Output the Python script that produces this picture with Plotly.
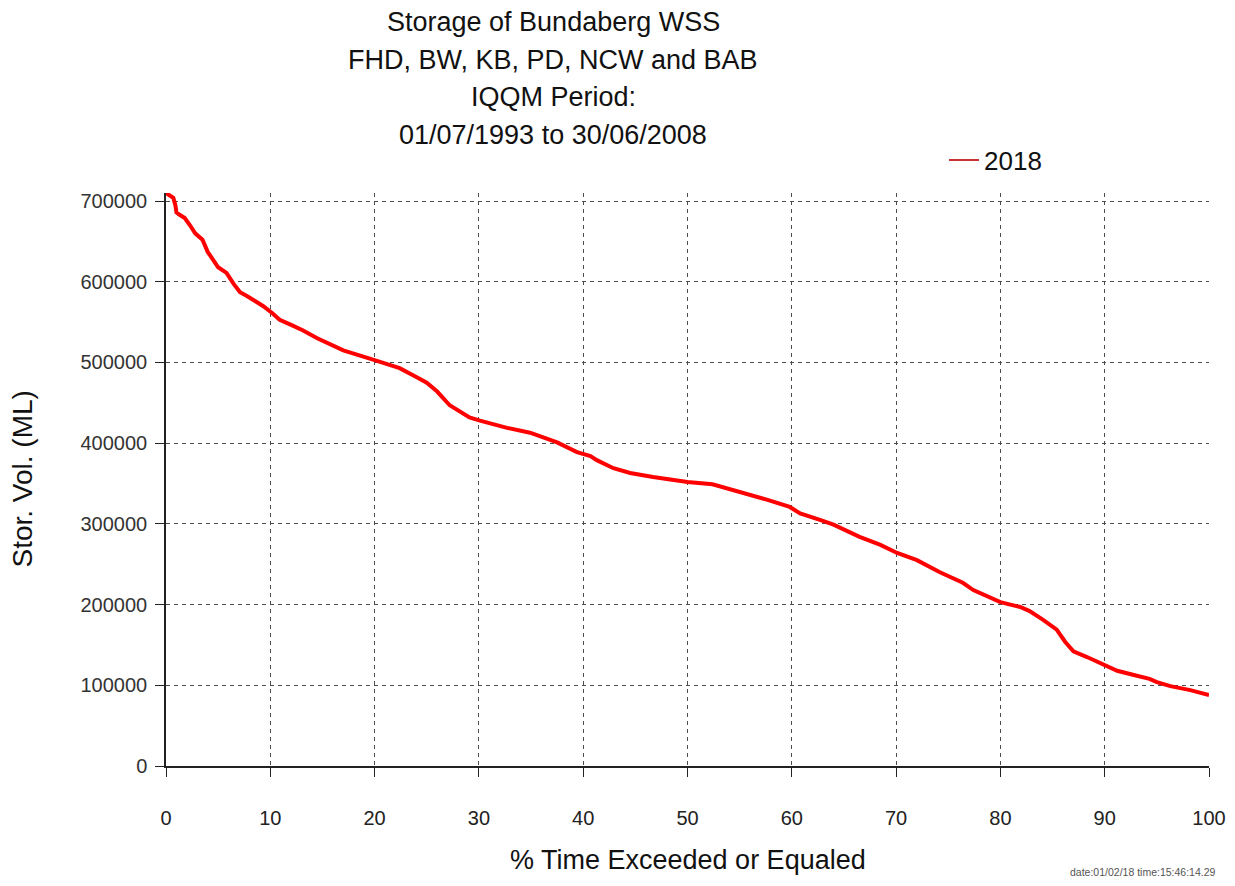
import plotly.graph_objects as go

# Duration curve: % time exceeded vs storage volume (ML)
pct_exceeded = [
    0.0, 0.7, 0.9, 1.0, 1.3, 1.8, 2.3, 2.8, 3.5, 4.0, 5.0, 5.8, 6.5, 7.1,
    7.8, 8.5, 9.3, 10.2, 10.9, 12.1, 13.1, 14.5, 17.0, 20.0, 22.4, 24.0,
    25.0, 26.0, 27.2, 29.1, 30.1, 32.7, 34.9, 37.5, 39.4, 40.7, 41.3, 42.9,
    44.5, 46.7, 50.0, 52.4, 55.0, 57.6, 59.8, 60.8, 62.7, 64.0, 66.5, 68.5,
    70.1, 72.0, 74.2, 76.4, 77.4, 80.0, 81.9, 82.8, 84.1, 85.4, 86.2, 87.0,
    88.3, 89.8, 91.2, 92.7, 94.3, 95.0, 96.3, 98.2, 100.0,
]
storage_ml = [
    710000, 704000, 695000, 686000, 683000, 679000, 670000, 660000, 652000,
    637000, 618000, 611000, 597000, 587000, 582000, 577000, 570000, 561000,
    553000, 546000, 540000, 530000, 515000, 503000, 493000, 482000, 475000,
    464000, 447000, 432000, 428000, 419000, 413000, 401000, 389000, 384000,
    379000, 369000, 363000, 358000, 352000, 349000, 340000, 330000, 321000,
    313000, 305000, 299000, 284000, 274000, 264000, 255000, 240000, 227000,
    218000, 203000, 197000, 192000, 181000, 169000, 154000, 142000, 135000,
    126000, 118000, 113000, 108000, 104000, 99000, 94000, 88000,
]
series_name = "2018"

title_lines = [
    "Storage of Bundaberg WSS",
    "FHD, BW, KB, PD, NCW and BAB",
    "IQQM Period:",
    "01/07/1993 to 30/06/2008",
]
x_title = "% Time Exceeded or Equaled"
y_title = "Stor. Vol. (ML)"
x_ticks = list(range(0, 101, 10))
y_ticks = list(range(0, 700001, 100000))
stamp = "date:01/02/18 time:15:46:14.29"

SANS = "Liberation Sans, Arial, sans-serif"

# page body has an 8px margin, so the figure sits 8px in from the top-left
W, H = 1227, 870
L, R, T, B = 158, 26, 185, 112
plot_w = W - L - R
plot_h = H - T - B


def px_x(x):
    # figure pixel -> paper x (relative to plot area)
    return (x - L) / plot_w


def px_y(y):
    return (H - B - y) / plot_h


fig = go.Figure()
fig.add_trace(go.Scatter(
    x=pct_exceeded, y=storage_ml,
    mode="lines",
    line={"color": "#ff0000", "width": 4},
    name=series_name,
    showlegend=False,
))
# thin legend swatch like the original
fig.add_trace(go.Scatter(
    x=[None], y=[None], mode="lines",
    line={"color": "#c83232", "width": 2},
    name=series_name,
))

grid = {"showgrid": True, "gridcolor": "#4d4d4d", "gridwidth": 1,
        "griddash": "4px,4px", "zeroline": False, "automargin": False,
        "showline": True, "linecolor": "#222222", "linewidth": 1.5,
        "ticks": "outside", "ticklen": 9, "tickcolor": "#222222"}

fig.update_layout(
    width=W, height=H, autosize=False,
    margin={"l": L, "r": R, "t": T, "b": B, "autoexpand": False},
    paper_bgcolor="white", plot_bgcolor="white",
    xaxis={**grid, "range": [0, 100], "tickvals": x_ticks,
           "ticklabelstandoff": 24,
           "tickfont": {"family": SANS, "size": 20, "color": "#222222"}},
    yaxis={**grid, "range": [0, 710000], "tickvals": y_ticks,
           "tickformat": "d", "ticklabelstandoff": 4,
           "tickfont": {"family": SANS, "size": 20, "color": "#333333"}},
    showlegend=True,
    legend={"x": px_x(936), "xanchor": "left", "y": px_y(152), "yanchor": "middle",
            "bgcolor": "rgba(0,0,0,0)",
            "font": {"family": SANS, "size": 26, "color": "#111111"}},
)

for i, line in enumerate(title_lines):
    fig.add_annotation(text=line, xref="paper", yref="paper",
                       x=px_x(545), y=px_y(14 + 37.7 * i),
                       xanchor="center", yanchor="middle", showarrow=False,
                       font={"family": SANS, "size": 27, "color": "#111111"})

fig.add_annotation(text=x_title, xref="paper", yref="paper",
                   x=0.5, y=px_y(852), xanchor="center", yanchor="middle",
                   showarrow=False,
                   font={"family": SANS, "size": 27, "color": "#111111"})
fig.add_annotation(text=y_title, xref="paper", yref="paper",
                   x=px_x(14), y=0.5, xanchor="center", yanchor="middle",
                   textangle=-90, showarrow=False,
                   font={"family": SANS, "size": 28, "color": "#111111"})
fig.add_annotation(text=stamp, xref="paper", yref="paper",
                   x=px_x(1210), y=px_y(864), xanchor="right", yanchor="middle",
                   showarrow=False, font={"family": SANS, "size": 10.5, "color": "#555555"})

fig.write_html("out.html")
